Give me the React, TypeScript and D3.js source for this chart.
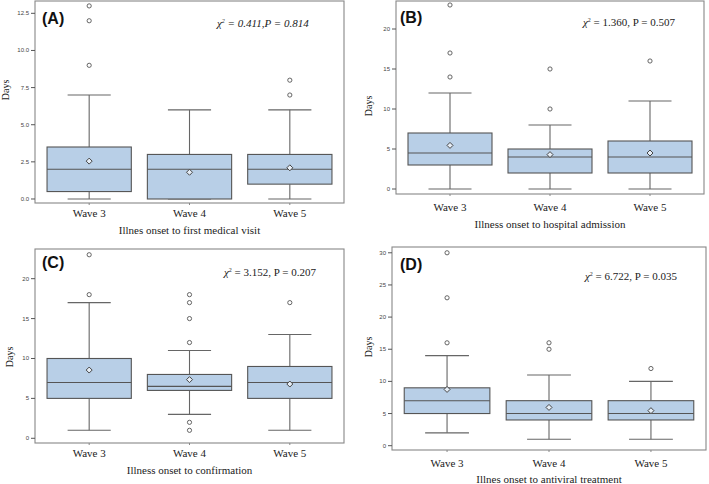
import React from "react";
import * as d3 from "d3";

const waves = ["Wave 3", "Wave 4", "Wave 5"];

// Panel A: Illness onset to first medical visit
const lowA = [0, 0, 0];
const q1A = [0.5, 0, 1];
const medA = [2, 2, 2];
const q3A = [3.5, 3, 3];
const highA = [7, 6, 6];
const meanA = [2.55, 1.8, 2.1];
const outA = [[9, 12, 13], [], [7, 8]];
const ticksA = [0, 2.5, 5, 7.5, 10, 12.5];

// Panel B: Illness onset to hospital admission
const lowB = [0, 0, 0];
const q1B = [3, 2, 2];
const medB = [4.5, 4, 4];
const q3B = [7, 5, 6];
const highB = [12, 8, 11];
const meanB = [5.45, 4.3, 4.5];
const outB = [[14, 17, 23], [10, 15], [16]];
const ticksB = [0, 5, 10, 15, 20];

// Panel C: Illness onset to confirmation
const lowC = [1, 3, 1];
const q1C = [5, 6, 5];
const medC = [7, 6.5, 7];
const q3C = [10, 8, 9];
const highC = [17, 11, 13];
const meanC = [8.55, 7.35, 6.8];
const outC = [[18, 23], [1, 2, 12, 15, 17, 18], [17]];
const ticksC = [0, 5, 10, 15, 20];

// Panel D: Illness onset to antiviral treatment
const lowD = [2, 1, 1];
const q1D = [5, 4, 4];
const medD = [7, 5, 5];
const q3D = [9, 7, 7];
const highD = [14, 11, 10];
const meanD = [8.75, 5.95, 5.45];
const outD = [[16, 23, 30], [15, 16], [12]];
const ticksD = [0, 5, 10, 15, 20, 25, 30];

const titles = [
  "Illnes onset to first medical visit",
  "Illness onset to hospital admission",
  "Illness onset to confirmation",
  "Illnes onset to antiviral treatment",
];
const panelLabels = ["(A)", "(B)", "(C)", "(D)"];
const statTexts = [
  { v: "0.411,P = 0.814", italic: true },
  { v: "1.360, P = 0.507", italic: false },
  { v: "3.152, P = 0.207", italic: false },
  { v: "6.722, P = 0.035", italic: false },
];

const panels = [
  {
    low: lowA, q1: q1A, med: medA, q3: q3A, high: highA, mean: meanA, out: outA, ticks: ticksA,
    fmt: d3.format(".1f"),
    x0: 35, x1: 344, y0: 1, y1: 203, dom: [-0.27, 13.33],
    waveDy: 14, titleDy: 31, stat: [217, 27], lab: [42, 24], days: [5, 90],
  },
  {
    low: lowB, q1: q1B, med: medB, q3: q3B, high: highB, mean: meanB, out: outB, ticks: ticksB,
    fmt: d3.format("d"),
    x0: 396, x1: 704, y0: 1, y1: 194, dom: [-0.625, 23.5],
    waveDy: 17, titleDy: 34, stat: [583, 26], lab: [400, 23], days: [368, 106],
  },
  {
    low: lowC, q1: q1C, med: medC, q3: q3C, high: highC, mean: meanC, out: outC, ticks: ticksC,
    fmt: d3.format("d"),
    x0: 35, x1: 344, y0: 249, y1: 443, dom: [-0.59, 23.72],
    waveDy: 14, titleDy: 31, stat: [224, 276], lab: [42, 268], days: [9, 357],
  },
  {
    low: lowD, q1: q1D, med: medD, q3: q3D, high: highD, mean: meanD, out: outD, ticks: ticksD,
    fmt: d3.format("d"),
    x0: 392, x1: 706, y0: 247, y1: 450, dom: [-0.67, 30.9],
    waveDy: 16.5, titleDy: 33, stat: [585, 280], lab: [400, 270], days: [368, 347],
  },
];

const SERIF = "'Liberation Serif', 'Times New Roman', serif";
const SANS = "'Liberation Sans', Arial, sans-serif";

function Panel({ p, i }: { p: any; i: number }) {
  const x = d3.scalePoint<string>().domain(waves).range([p.x0, p.x1]).padding(0.54);
  const y = d3.scaleLinear().domain(p.dom).range([p.y1, p.y0]);
  const step = x.step();
  const bw = step * 0.84;
  const cw = step * 0.43;
  const st = statTexts[i];
  return (
    <g>
      {waves.map((w, k) => {
        const cx = x(w)!;
        const m = y(p.mean[k]);
        const dr = 3;
        return (
          <g key={w}>
            <line x1={cx} x2={cx} y1={y(p.q3[k])} y2={y(p.high[k])} stroke="#666" strokeWidth={1.1} />
            <line x1={cx} x2={cx} y1={y(p.q1[k])} y2={y(p.low[k])} stroke="#666" strokeWidth={1.1} />
            <line x1={cx - cw / 2} x2={cx + cw / 2} y1={y(p.high[k])} y2={y(p.high[k])} stroke="#666" strokeWidth={1.1} />
            <line x1={cx - cw / 2} x2={cx + cw / 2} y1={y(p.low[k])} y2={y(p.low[k])} stroke="#666" strokeWidth={1.1} />
            <rect
              x={cx - bw / 2}
              y={y(p.q3[k])}
              width={bw}
              height={Math.max(0, y(p.q1[k]) - y(p.q3[k]))}
              fill="#b8cfe7"
              stroke="#555"
              strokeWidth={1.1}
            />
            <line x1={cx - bw / 2} x2={cx + bw / 2} y1={y(p.med[k])} y2={y(p.med[k])} stroke="#555" strokeWidth={1.1} />
            <path
              d={`M${cx},${m - dr}L${cx + dr},${m}L${cx},${m + dr}L${cx - dr},${m}Z`}
              fill="#e6eef7"
              stroke="#444"
              strokeWidth={1}
            />
            {p.out[k].map((o: number, j: number) => (
              <circle key={j} cx={cx} cy={y(o)} r={2.1} fill="#fff" stroke="#555" strokeWidth={0.9} />
            ))}
            <line x1={cx} x2={cx} y1={p.y1} y2={p.y1 + 2} stroke="#888" />
            <text
              x={cx}
              y={p.y1 + p.waveDy}
              textAnchor="middle"
              fontFamily={SERIF}
              fontSize={11}
              fill="#222"
            >
              {w}
            </text>
          </g>
        );
      })}
      <rect x={p.x0} y={p.y0} width={p.x1 - p.x0} height={p.y1 - p.y0} fill="none" stroke="#888" strokeWidth={1.1} />
      {p.ticks.map((t: number) => (
        <g key={t}>
          <line x1={p.x0 - 4} x2={p.x0} y1={y(t)} y2={y(t)} stroke="#555" />
          <text
            x={p.x0 - 6}
            y={y(t)}
            textAnchor="end"
            dominantBaseline="central"
            fontFamily={SANS}
            fontSize={6}
            fill="#444"
          >
            {p.fmt(t)}
          </text>
        </g>
      ))}
      <text
        transform={`translate(${p.days[0]},${p.days[1]}) rotate(-90)`}
        textAnchor="middle"
        dominantBaseline="central"
        fontFamily={SERIF}
        fontSize={10}
        fill="#222"
      >
        Days
      </text>
      <text
        x={(p.x0 + p.x1) / 2}
        y={p.y1 + p.titleDy}
        textAnchor="middle"
        fontFamily={SERIF}
        fontSize={11}
        fill="#222"
      >
        {titles[i]}
      </text>
      <text x={p.lab[0]} y={p.lab[1]} fontFamily={SANS} fontWeight="bold" fontSize={16} fill="#111">
        {panelLabels[i]}
      </text>
      <text
        x={p.stat[0]}
        y={p.stat[1]}
        fontFamily={SERIF}
        fontStyle={st.italic ? "italic" : "normal"}
        fontSize={11}
        fill="#222"
      >
        <tspan fontStyle="italic">χ</tspan>
        <tspan dy={-4} fontSize={6}>2</tspan>
        <tspan dy={4}>{" = " + st.v}</tspan>
      </text>
    </g>
  );
}

export default function App() {
  return (
    <svg
      width={709}
      height={484}
      style={{ position: "absolute", left: 0, top: 0, background: "#fff" }}
    >
      <rect width={709} height={484} fill="#fff" />
      {panels.map((p, i) => (
        <Panel key={i} p={p} i={i} />
      ))}
    </svg>
  );
}
